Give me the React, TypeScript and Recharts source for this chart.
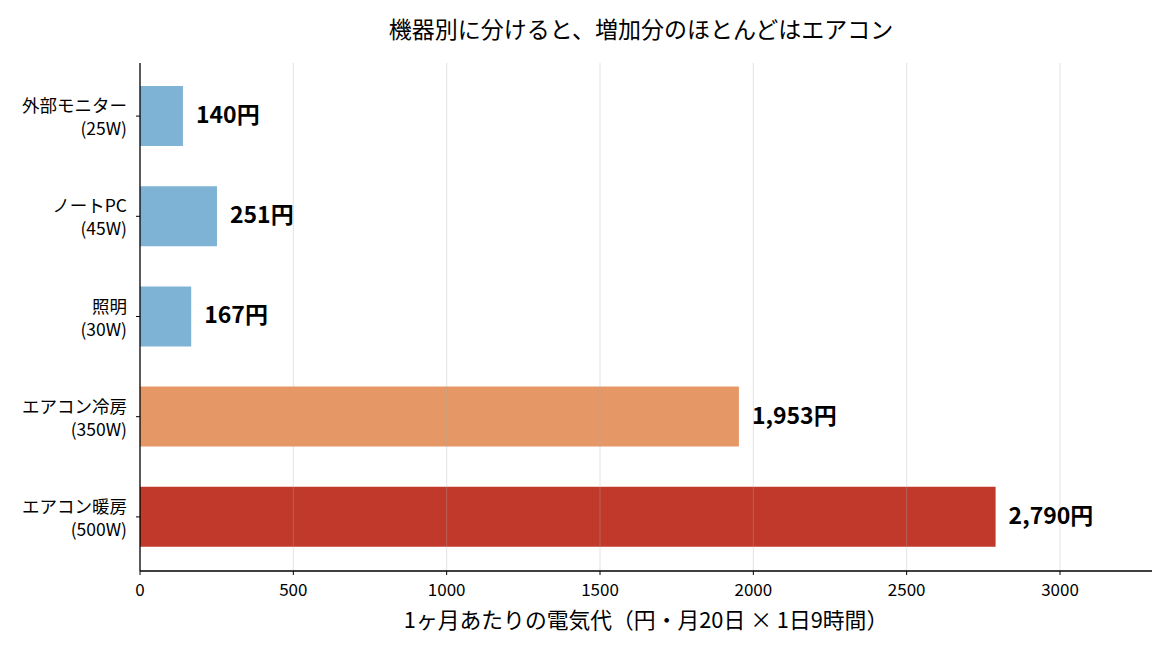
import React from 'react';
import { BarChart, Bar, XAxis, YAxis, Cell, LabelList, ReferenceLine } from 'recharts';

const devices = ['外部モニター', 'ノートPC', '照明', 'エアコン冷房', 'エアコン暖房'];
const watts = ['(25W)', '(45W)', '(30W)', '(350W)', '(500W)'];
const costs = [140, 251, 167, 1953, 2790];
const colors = ['#7fb3d5', '#7fb3d5', '#7fb3d5', '#e59866', '#c0392b'];
const xTicks = [0, 500, 1000, 1500, 2000, 2500, 3000];
const gridValues = [500, 1000, 1500, 2000, 2500, 3000];

const TITLE = '機器別に分けると、増加分のほとんどはエアコン';
const XLABEL = '1ヶ月あたりの電気代（円・月20日 × 1日9時間）';
const FONT = '"Noto Sans CJK JP", "Noto Sans", sans-serif';

const data = devices.map((d, i) => ({ name: d, watt: watts[i], value: costs[i] }));

const YTick = (props: any) => {
  const { x, y, payload, index } = props;
  const watt = watts[index ?? devices.indexOf(payload.value)];
  return (
    <g>
      <text x={x} y={y} textAnchor="end" fontSize={17.5} fill="#000" fontFamily={FONT}>
        <tspan x={x} dy={-4}>{payload.value}</tspan>
        <tspan x={x} dy={23}>{watt}</tspan>
      </text>
    </g>
  );
};

const XTick = (props: any) => {
  const { x, y, payload } = props;
  return (
    <text x={x} y={y + 19} textAnchor="middle" fontSize={17} fill="#000" fontFamily={FONT}>
      {payload.value}
    </text>
  );
};

const XLabel = (props: any) => {
  const { viewBox } = props;
  return (
    <text
      x={viewBox.x + viewBox.width / 2}
      y={viewBox.y + 57}
      textAnchor="middle"
      fontSize={21.8}
      fill="#000"
      fontFamily={FONT}
    >
      {XLABEL}
    </text>
  );
};

const ValueLabel = (props: any) => {
  const { x, y, width, height, value } = props;
  return (
    <text
      x={x + width + 13}
      y={y + height / 2 - 3}
      dominantBaseline="central"
      fontSize={23}
      fontWeight="bold"
      fill="#000"
      fontFamily={FONT}
    >
      {Number(value).toLocaleString('en-US')}円
    </text>
  );
};

export default function App() {
  return (
    <div style={{ position: 'absolute', left: 0, top: 0, width: 1170, height: 650, background: '#fff', fontFamily: FONT }}>
      <div
        style={{
          position: 'absolute',
          left: 135,
          width: 1012,
          top: 12,
          textAlign: 'center',
          fontSize: 23,
          lineHeight: '32px',
          color: '#000',
        }}
      >
        {TITLE}
      </div>
      <BarChart
        width={1170}
        height={650}
        data={data}
        layout="vertical"
        margin={{ top: 63, right: 18, bottom: 19, left: 10 }}
        barSize={60}
      >
        <XAxis
          type="number"
          dataKey="value"
          domain={[0, 3300]}
          ticks={xTicks}
          allowDataOverflow
          tick={<XTick />}
          tickSize={4}
          height={60}
          axisLine={{ stroke: '#000', strokeWidth: 1.3 }}
          tickLine={{ stroke: '#000', strokeWidth: 1 }}
          label={<XLabel />}
        />
        <YAxis
          type="category"
          dataKey="name"
          width={130}
          tick={<YTick />}
          tickSize={4}
          tickMargin={9}
          padding={{ top: 3, bottom: 4 }}
          axisLine={{ stroke: '#000', strokeWidth: 1.3 }}
          tickLine={{ stroke: '#000', strokeWidth: 1 }}
          interval={0}
        />
        <Bar dataKey="value" isAnimationActive={false}>
          {data.map((d, i) => (
            <Cell key={d.name} fill={colors[i]} />
          ))}
          <LabelList dataKey="value" content={<ValueLabel />} />
        </Bar>
        {gridValues.map((v) => (
          <ReferenceLine key={v} x={v} stroke="#b0b0b0" strokeOpacity={0.35} strokeWidth={1} />
        ))}
      </BarChart>
    </div>
  );
}
